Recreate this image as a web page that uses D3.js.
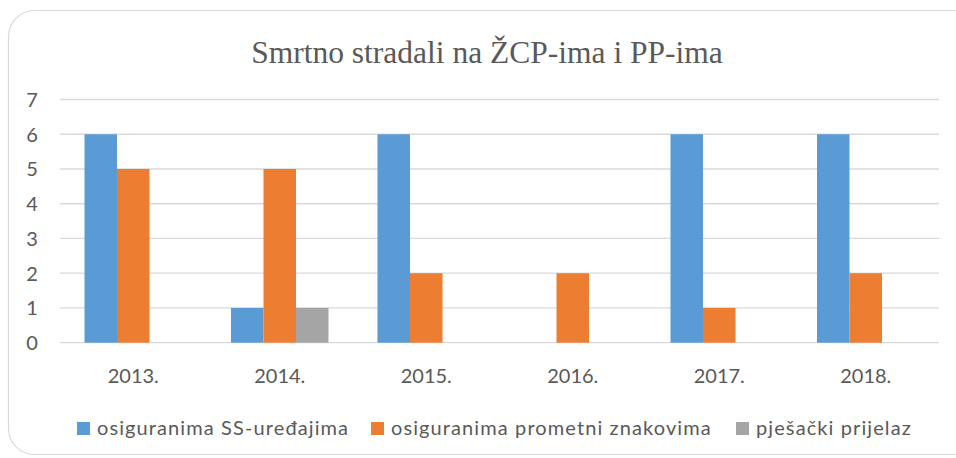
<!DOCTYPE html>
<html><head><meta charset="utf-8">
<script src="https://cdn.jsdelivr.net/npm/d3@7"></script>
<style>body{margin:0;background:#fff;}svg{display:block;}</style>
</head><body>
<svg id="c" width="956" height="458"></svg>
<script>
const categories = ["2013.","2014.","2015.","2016.","2017.","2018."];
const seriesNames = ["osiguranima SS-uređajima","osiguranima prometni znakovima","pješački prijelaz"];
const ssValues = [6,1,6,0,6,6];
const znakValues = [5,5,2,2,1,2];
const pjesValues = [0,1,0,0,0,0];
const yTicks = [0,1,2,3,4,5,6,7];
const colors = ["#5B9BD5","#ED7D31","#A5A5A5"];
const title = "Smrtno stradali na ŽCP-ima i PP-ima";

const series = [ssValues, znakValues, pjesValues];
const svg = d3.select("#c");
const pL = 60, pR = 939, pT = 99.5, pB = 342.7;
const txt = "#595959";
const font = "Lato, 'Open Sans', sans-serif";
const fs = 20;

svg.append("rect").attr("x",8.5).attr("y",10.5).attr("width",975).attr("height",444)
  .attr("rx",26).attr("fill","#fff").attr("stroke","#d9d9d9").attr("stroke-width",1.2);

svg.append("text").attr("x",487).attr("y",63).attr("text-anchor","middle")
  .attr("font-family","'Liberation Serif','Times New Roman',serif").attr("font-size",31.5)
  .attr("fill",txt).text(title);

const y = d3.scaleLinear().domain([0,7]).range([pB, pT]);
const x0 = d3.scaleBand().domain(categories).range([pL, pR]).paddingInner(0).paddingOuter(0);
const groupW = 97.5;
const x1 = d3.scaleBand().domain(d3.range(3)).range([0, groupW]);

const grid = svg.append("g");
grid.selectAll("line").data(yTicks).join("line")
  .attr("x1",pL).attr("x2",pR).attr("y1",d=>y(d)).attr("y2",d=>y(d))
  .attr("stroke","#d9d9d9").attr("stroke-width",1.3);

const yAxis = d3.axisLeft(y).tickValues(yTicks).tickSize(0).tickPadding(0).tickFormat(d3.format("d"));
const ya = svg.append("g").attr("transform",`translate(32,0)`).call(yAxis);
ya.select(".domain").remove();
ya.selectAll("text").attr("font-family",font).attr("font-size",fs).attr("fill",txt)
  .attr("text-anchor","middle").attr("dy","0.35em");

categories.forEach((c,i)=>{
  const gx = x0(c) + (x0.bandwidth()-groupW)/2;
  series.forEach((s,j)=>{
    if (s[i] <= 0) return;
    svg.append("rect").attr("x",gx + x1(j)).attr("width",x1.bandwidth())
      .attr("y",y(s[i])).attr("height",y(0)-y(s[i])).attr("fill",colors[j]);
  });
});

const xAxis = d3.axisBottom(x0).tickSize(0).tickPadding(0);
const xa = svg.append("g").attr("transform",`translate(0,${pB})`).call(xAxis);
xa.select(".domain").remove();
xa.selectAll("text").attr("font-family",font).attr("font-size",fs).attr("fill",txt)
  .attr("dy",null).attr("y",40);

const legX = [77, 371, 736];
const lg = svg.append("g");
seriesNames.forEach((n,j)=>{
  lg.append("rect").attr("x",legX[j]).attr("y",422).attr("width",13).attr("height",13).attr("fill",colors[j]);
  lg.append("text").attr("x",legX[j]+20).attr("y",435).attr("font-family",font).attr("font-size",fs)
    .attr("letter-spacing","1.1px").attr("fill",txt).text(n);
});
</script>
</body></html>
